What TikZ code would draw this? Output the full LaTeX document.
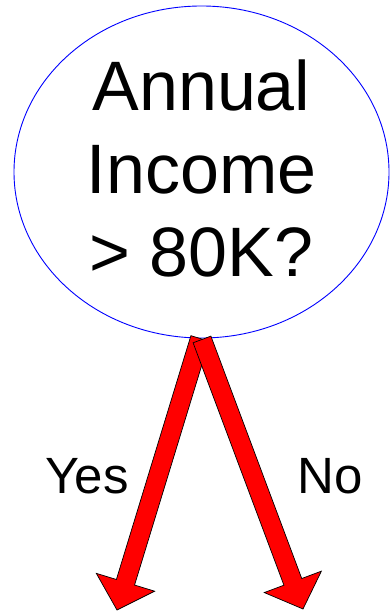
\documentclass[tikz,border=0pt]{standalone}
\usepackage{fontspec}
\setmainfont{Liberation Sans}
\usepackage{tikz}
\usetikzlibrary{shapes.geometric, calc}

\begin{document}
\begin{tikzpicture}[
  x=1pt, y=-1pt,
  test/.style={ellipse, draw=blue, line width=0.9pt, fill=white,
               minimum width=375pt, minimum height=332pt, inner sep=0pt,
               align=center, font=\fontsize{70pt}{83pt}\selectfont},
  lbl/.style={font=\fontsize{51pt}{60pt}\selectfont, inner sep=0pt},
  barrow/.style={fill=red, draw=black, line width=0.7pt, line join=miter},
]
\useasboundingbox (0,0) rectangle (390,612);

\node[test] (q) at (201.5,172) {Annual\\Income\\> 80K?\rule[-7pt]{0pt}{0pt}};

\coordinate (yesstart) at ([xshift=-1.5pt]q.south);
\coordinate (nostart)  at ([xshift=0.5pt,yshift=-1pt]q.south);
\coordinate (yes) at (117,610);
\coordinate (no)  at (303,609);

% yes branch
\coordinate (yeshb) at ($(yes)!29pt!(yesstart)$);
\draw[barrow] ($(yesstart)!9.5pt!-90:(yes)$) -- ($(yeshb)!9.5pt!-90:(yes)$)
  -- ($(yeshb)!30.5pt!-90:(yes)$) -- (yes) -- ($(yeshb)!30.5pt!90:(yes)$)
  -- ($(yeshb)!9.5pt!90:(yes)$) -- ($(yesstart)!9.5pt!90:(yes)$) -- cycle;

% no branch
\coordinate (nohb) at ($(no)!29pt!(nostart)$);
\draw[barrow] ($(nostart)!9.5pt!-90:(no)$) -- ($(nohb)!9.5pt!-90:(no)$)
  -- ($(nohb)!30.5pt!-90:(no)$) -- (no) -- ($(nohb)!30.5pt!90:(no)$)
  -- ($(nohb)!9.5pt!90:(no)$) -- ($(nostart)!9.5pt!90:(no)$) -- cycle;

\node[lbl] (yeslbl) at (87,476) {Yes};
\node[lbl] (nolbl)  at (330,476) {No};
\end{tikzpicture}
\end{document}
